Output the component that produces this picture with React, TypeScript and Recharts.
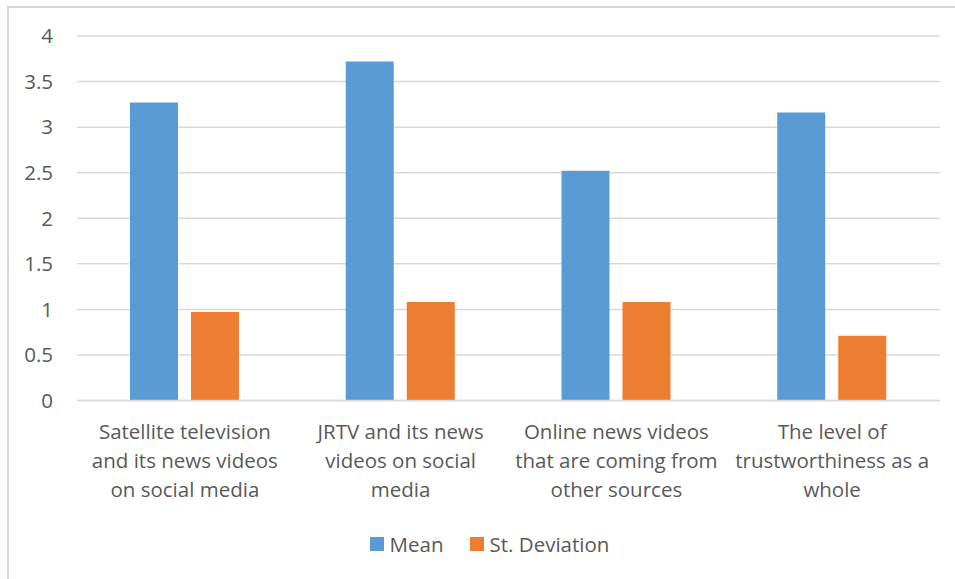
import { BarChart, Bar, XAxis, YAxis, CartesianGrid, Legend } from 'recharts';

const categories = [
  'Satellite television\nand its news videos\non social media',
  'JRTV and its news\nvideos on social\nmedia',
  'Online news videos\nthat are coming from\nother sources',
  'The level of\ntrustworthiness as a\nwhole',
];
const meanValues = [3.27, 3.72, 2.52, 3.16];
const sdValues = [0.97, 1.08, 1.08, 0.71];
const yTicks = [0, 0.5, 1, 1.5, 2, 2.5, 3, 3.5, 4];

const data = categories.map((name, i) => ({ name, mean: meanValues[i], sd: sdValues[i] }));

const FONT = '"Open Sans", sans-serif';
const TEXT = '#595959';
const FS = 20.5;

const CategoryTick = ({ x, y, payload }: any) => {
  const lines = String(payload.value).split('\n');
  return (
    <text x={x} y={y} textAnchor="middle" fill={TEXT} fontFamily={FONT} fontSize={FS}>
      {lines.map((l, i) => (
        <tspan key={i} x={x} dy={i === 0 ? 30 : 29}>{l}</tspan>
      ))}
    </text>
  );
};

const LegendContent = () => (
  <div style={{ display: 'flex', justifyContent: 'center', paddingLeft: 30, fontFamily: FONT, fontSize: FS, color: TEXT, height: 30, alignItems: 'center' }}>
    <span style={{ display: 'inline-block', width: 14, height: 14, background: '#5b9bd5', marginRight: 6 }} />
    <span style={{ marginRight: 26 }}>Mean</span>
    <span style={{ display: 'inline-block', width: 14, height: 14, background: '#ed7d31', marginRight: 6 }} />
    <span>St. Deviation</span>
  </div>
);

export default function App() {
  return (
    <div style={{ position: 'absolute', left: 7, top: 6, width: 948, height: 573, borderLeft: '2px solid #d9d9d9', borderTop: '2px solid #d9d9d9', boxSizing: 'border-box', background: '#fff' }}>
      <BarChart width={946} height={571} data={data} margin={{ top: 28, right: 15, left: 0, bottom: 0 }} barSize={48} barGap={13}>
        <CartesianGrid vertical={false} stroke="#d9d9d9" strokeWidth={1.5} />
        <XAxis dataKey="name" interval={0} height={148.5} tick={<CategoryTick />} tickLine={false} axisLine={{ stroke: '#d9d9d9', strokeWidth: 1.5 }} />
        <YAxis domain={[0, 4]} ticks={yTicks} width={68} tick={{ fill: TEXT, fontFamily: FONT, fontSize: FS }} tickMargin={18} axisLine={false} tickLine={false} />
        <Legend verticalAlign="bottom" content={<LegendContent />} wrapperStyle={{ height: 30, bottom: 20 }} />
        <Bar dataKey="mean" name="Mean" fill="#5b9bd5" isAnimationActive={false} />
        <Bar dataKey="sd" name="St. Deviation" fill="#ed7d31" isAnimationActive={false} />
      </BarChart>
    </div>
  );
}
